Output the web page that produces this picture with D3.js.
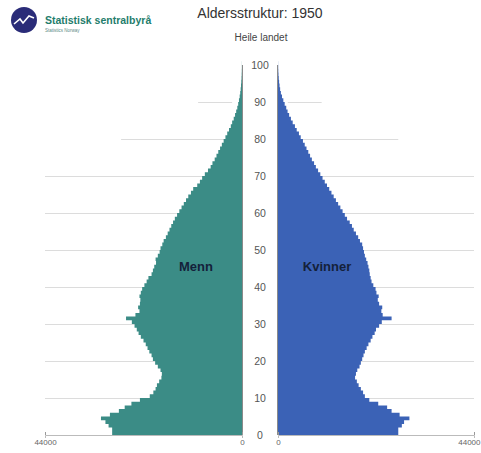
<!DOCTYPE html>
<html><head><meta charset="utf-8">
<script src="https://cdn.jsdelivr.net/npm/d3@7"></script>
<style>body{margin:0;background:#fff;}svg{display:block;font-family:"Liberation Sans",Arial,sans-serif;}</style>
</head><body>
<svg id="c" width="481" height="453"></svg>
<script>
const ages = d3.range(0, 101);
const men = [29000,29800,30500,31500,29500,27500,26200,24700,22800,20600,
19800,19300,19000,18500,18000,17900,18200,18800,19400,19900,
20200,20700,21100,21500,22000,22600,23100,23500,24000,24600,
25900,23800,22900,23200,22800,22700,22900,22600,22300,21800,
21300,20900,20200,19900,19600,19200,19300,18800,18400,18200,
17800,17500,17000,16600,16200,15800,15400,15000,14500,14000,
13500,13000,12500,12000,11400,10900,10000,9400,8900,8300,
7600,7000,6600,6100,5700,5300,4900,4500,4100,3700,
3300,2900,2500,2200,1850,1550,1300,1050,850,680,
520,400,300,220,160,110,75,50,30,20,10];
const women = [27000,27800,28300,29500,27300,25500,24500,22500,20500,19500,
19100,18600,18100,17700,17300,17500,17800,18300,18600,18900,
19200,19500,19900,20300,20800,21200,21700,22000,22700,23300,
25500,23500,23200,23400,22700,22400,22600,22100,21900,21400,
21000,20800,20600,20500,20300,20100,19800,19500,19300,19100,
18900,18400,18000,17500,17000,16600,16100,15500,15000,14500,
14000,13500,13000,12500,12000,11500,11000,10500,10000,9500,
9000,8500,8100,7600,7200,6800,6400,6000,5600,5100,
4700,4200,3800,3300,2900,2500,2150,1850,1500,1200,
900,650,480,350,250,170,110,70,45,25,15];
const ageTicks = [0,10,20,30,40,50,60,70,80,90,100];
const valueTicks = [0, 44000];
// gridlines: [age, from value, to value]
const grid = [[10,0,44000],[20,0,44000],[30,0,44000],[40,0,44000],[50,0,44000],[60,0,44000],[70,0,44000],[80,2200,27000],[90,2200,9800]];
const title = "Aldersstruktur: 1950";
const subtitle = "Heile landet";
const seriesNames = ["Menn", "Kvinner"];

const svg = d3.select("#c");
const y = d3.scaleLinear().domain([0,100]).range([435,65]);
const xL = d3.scaleLinear().domain([0,44000]).range([242,45]);
const xR = d3.scaleLinear().domain([0,44000]).range([278,474]);

// gridlines
const gl = svg.append("g").attr("stroke","#dcdcdc").attr("stroke-width",1);
grid.forEach(([a,f,t])=>{
  gl.append("line").attr("x1",xL(t)).attr("x2",xL(f)).attr("y1",Math.round(y(a))+0.5).attr("y2",Math.round(y(a))+0.5);
  gl.append("line").attr("x1",xR(f)).attr("x2",xR(t)).attr("y1",Math.round(y(a))+0.5).attr("y2",Math.round(y(a))+0.5);
});

// bars as stepped areas (one band per age)
const pts = ages.concat([101]);
const val = (arr, a) => arr[Math.min(a, arr.length-1)];
const areaL = d3.area().curve(d3.curveStepBefore)
  .y(a=>y(a)).x0(xL(0)).x1(a=>xL(val(men, a===0?0:a-1)));
const areaR = d3.area().curve(d3.curveStepBefore)
  .y(a=>y(a)).x0(xR(0)).x1(a=>xR(val(women, a===0?0:a-1)));
svg.append("path").datum(pts).attr("d", areaL).attr("fill","#3b8c86");
svg.append("path").datum(pts).attr("d", areaR).attr("fill","#3b62b6");

// center vertical lines
svg.append("line").attr("x1",xL(0)+0.5).attr("x2",xL(0)+0.5).attr("y1",y(100)).attr("y2",y(0)).attr("stroke","#8a8a8a").attr("stroke-width",1);
svg.append("line").attr("x1",xR(0)-0.5).attr("x2",xR(0)-0.5).attr("y1",y(100)).attr("y2",y(0)).attr("stroke","#8a8a8a").attr("stroke-width",1);

// baselines with axes
const axL = d3.axisBottom(xL).tickValues(valueTicks).tickSize(3).tickFormat(d3.format("d"));
const axR = d3.axisBottom(xR).tickValues(valueTicks).tickSize(3).tickFormat(d3.format("d"));
[axL, axR].forEach((ax, i)=>{
  const g = svg.append("g").attr("transform",`translate(0,${y(0)})`).call(ax);
  g.select(".domain").attr("stroke","#bbb");
  g.selectAll(".tick line").attr("stroke","#999").attr("transform","translate(0,-3)");
  g.selectAll(".tick text").attr("fill","#666").attr("font-size",8).attr("dy","0.5em")
    .attr("font-family","Liberation Sans, Arial, sans-serif");
  if (i === 1) {
    g.selectAll(".tick text").filter(d=>d===44000).attr("text-anchor","end").attr("x",6);
  }
});

// age labels
svg.append("g").selectAll("text").data(ageTicks).join("text")
  .attr("x",260).attr("y",d=>y(d)).attr("dy","0.35em").attr("text-anchor","middle")
  .attr("font-size",10.5).attr("fill","#555").text(d=>d);

// series labels
svg.append("text").attr("x",196).attr("y",y(45.5)).attr("dy","0.35em").attr("text-anchor","middle")
  .attr("font-size",13).attr("font-weight","bold").attr("fill","#14213a").text(seriesNames[0]);
svg.append("text").attr("x",327).attr("y",y(45.5)).attr("dy","0.35em").attr("text-anchor","middle")
  .attr("font-size",13).attr("font-weight","bold").attr("fill","#14213a").text(seriesNames[1]);

// titles
svg.append("text").attr("x",260).attr("y",18).attr("text-anchor","middle").attr("font-size",14).attr("fill","#333").text(title);
svg.append("text").attr("x",261).attr("y",41).attr("text-anchor","middle").attr("font-size",10).attr("fill","#444").text(subtitle);

// logo
const lg = svg.append("g");
lg.append("circle").attr("cx",24).attr("cy",20).attr("r",13).attr("fill","#2a2c78");
lg.append("path").attr("d","M14,24 L20,19 L23,23 L29,16 L34,18").attr("fill","none").attr("stroke","#fff").attr("stroke-width",1.6);
lg.append("text").attr("x",45).attr("y",24).attr("font-size",10.5).attr("font-weight","bold").attr("fill","#1f7d6c").text("Statistisk sentralbyrå");
lg.append("text").attr("x",45).attr("y",31.5).attr("font-size",4.5).attr("fill","#5c8a86").text("Statistics Norway");
</script>
</body></html>
